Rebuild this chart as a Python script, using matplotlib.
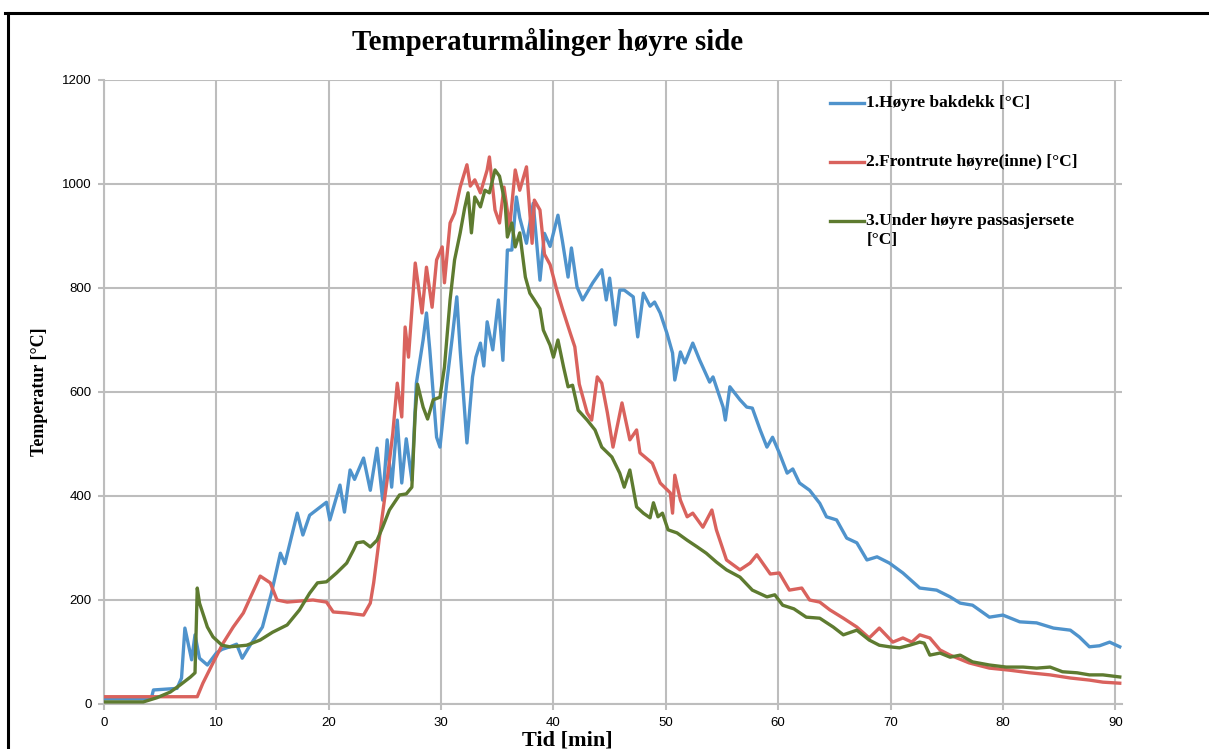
import matplotlib
matplotlib.use("Agg")
from matplotlib import pyplot as plt
from matplotlib.lines import Line2D

# (time [min], temperature [°C])
bakdekk = [(0, 10), (4.2, 10), (4.4, 27), (6.5, 30), (6.9, 50), (7.2, 146), (7.8, 85), (8.1, 133),
           (8.5, 88), (9.2, 75), (10.0, 98), (10.5, 105), (11.2, 110), (11.8, 115), (12.3, 88),
           (13.0, 113), (14.1, 148), (14.9, 213), (15.7, 290), (16.1, 270), (17.2, 367), (17.7, 325),
           (18.3, 363), (19.8, 388), (20.1, 354), (21.0, 421), (21.4, 369), (21.9, 450), (22.3, 432),
           (23.1, 473), (23.7, 411), (24.3, 492), (24.8, 392), (25.2, 508), (25.6, 417), (26.1, 546),
           (26.5, 425), (26.9, 510), (27.4, 430), (27.8, 617), (28.4, 700), (28.7, 752), (29.0, 680),
           (29.6, 513), (29.9, 494), (30.5, 617), (31.0, 706), (31.4, 783), (31.7, 680), (32.3, 502),
           (32.8, 629), (33.1, 667), (33.5, 694), (33.8, 650), (34.1, 735), (34.6, 681), (35.1, 777),
           (35.5, 661), (35.9, 873), (36.3, 873), (36.7, 975), (37.0, 935), (37.6, 886), (38.2, 963),
           (38.8, 815), (39.2, 905), (39.7, 880), (40.4, 940), (40.8, 890), (41.3, 821), (41.6, 877),
           (42.1, 802), (42.6, 777), (43.5, 810), (44.3, 835), (44.7, 777), (45.0, 819), (45.5, 729),
           (45.9, 796), (46.3, 796), (47.1, 783), (47.5, 706), (48.0, 790), (48.6, 765), (49.0, 773),
           (49.5, 752), (50.1, 713), (50.6, 675), (50.8, 623), (51.3, 677), (51.7, 656), (52.4, 694),
           (53.0, 662), (53.9, 619), (54.2, 629), (55.1, 571), (55.3, 546), (55.7, 610), (56.6, 585),
           (57.2, 571), (57.7, 569), (58.4, 527), (59.0, 494), (59.5, 513), (60.1, 483), (60.8, 444),
           (61.3, 452), (61.9, 425), (62.8, 411), (63.7, 386), (64.3, 360), (65.2, 354), (66.1, 319),
           (67.0, 310), (67.9, 277), (68.8, 283), (69.9, 271), (71.1, 252), (72.6, 223), (74.1, 219),
           (75.3, 206), (76.2, 194), (77.3, 190), (78.8, 167), (80.0, 171), (81.5, 158), (83.0, 156),
           (84.5, 146), (86.0, 142), (86.8, 129), (87.7, 110), (88.6, 112), (89.5, 119), (90.4, 110)]

frontrute = [(0, 14), (8.3, 14), (8.8, 40), (9.7, 79), (10.6, 117), (11.5, 148), (12.4, 175),
             (13.2, 213), (13.9, 246), (14.8, 233), (15.4, 200), (16.3, 196), (18.6, 200), (19.8, 196),
             (20.4, 177), (21.6, 175), (23.1, 171), (23.7, 194), (24.0, 233), (24.6, 335), (25.2, 431),
             (25.7, 520), (26.1, 617), (26.5, 552), (26.8, 725), (27.1, 667), (27.7, 848), (28.3, 752),
             (28.7, 840), (29.2, 763), (29.6, 854), (30.1, 879), (30.3, 810), (30.8, 925), (31.2, 944),
             (31.7, 994), (32.3, 1037), (32.6, 996), (33.0, 1008), (33.5, 983), (34.1, 1027),
             (34.3, 1052), (34.8, 950), (35.2, 925), (35.6, 994), (36.1, 917), (36.6, 1027),
             (37.0, 988), (37.6, 1033), (38.1, 886), (38.3, 969), (38.8, 950), (39.2, 865), (39.7, 845),
             (40.3, 796), (40.8, 760), (41.5, 713), (41.9, 687), (42.3, 615), (43.0, 560), (43.4, 546),
             (43.9, 629), (44.3, 617), (44.8, 560), (45.3, 494), (46.1, 579), (46.8, 508), (47.4, 527),
             (47.7, 483), (48.8, 463), (49.5, 425), (50.4, 406), (50.6, 367), (50.8, 440), (51.3, 392),
             (51.9, 360), (52.4, 367), (53.3, 340), (54.1, 373), (54.5, 335), (55.4, 277), (56.6, 258),
             (57.5, 271), (58.1, 287), (59.3, 250), (60.1, 252), (61.0, 219), (62.1, 223), (62.8, 200),
             (63.7, 196), (64.6, 181), (65.8, 165), (67.0, 148), (68.1, 127), (69.0, 146), (70.2, 119),
             (71.1, 127), (71.9, 119), (72.6, 133), (73.5, 127), (74.4, 104), (75.3, 94), (77.0, 79),
             (78.8, 69), (80.6, 65), (82.4, 60), (84.2, 56), (86.0, 50), (87.7, 46), (88.9, 42),
             (90.4, 40)]

passasjersete = [(0, 4), (3.5, 4), (4.7, 12), (5.9, 23), (6.8, 37), (7.7, 52), (8.1, 60), (8.3, 223),
                 (8.5, 194), (9.2, 148), (9.7, 129), (10.5, 113), (11.2, 110), (12.7, 113), (13.9, 123),
                 (15.0, 138), (16.3, 152), (17.4, 181), (18.3, 213), (19.0, 233), (19.8, 235),
                 (20.7, 252), (21.6, 271), (22.2, 296), (22.5, 310), (23.1, 312), (23.7, 302),
                 (24.3, 315), (24.8, 340), (25.4, 373), (26.3, 402), (26.9, 404), (27.4, 417),
                 (27.7, 560), (27.9, 615), (28.4, 571), (28.8, 548), (29.3, 585), (29.9, 590),
                 (30.3, 648), (30.8, 777), (31.2, 854), (31.7, 906), (32.1, 954), (32.4, 983),
                 (32.7, 906), (33.0, 975), (33.5, 956), (33.9, 988), (34.3, 983), (34.8, 1027),
                 (35.2, 1015), (35.7, 963), (35.9, 898), (36.3, 925), (36.6, 879), (37.0, 906),
                 (37.5, 821), (37.9, 790), (38.3, 777), (38.8, 760), (39.1, 719), (39.7, 690),
                 (40.0, 667), (40.4, 700), (40.9, 648), (41.3, 610), (41.7, 613), (42.2, 565),
                 (43.0, 546), (43.7, 527), (44.3, 494), (45.2, 475), (45.9, 444), (46.3, 417),
                 (46.8, 450), (47.4, 379), (48.0, 367), (48.6, 358), (48.9, 387), (49.3, 360),
                 (49.7, 367), (50.2, 335), (51.0, 329), (51.9, 315), (52.8, 302), (53.6, 290),
                 (54.5, 273), (55.4, 258), (56.6, 244), (57.7, 219), (59.0, 206), (59.7, 210),
                 (60.4, 190), (61.4, 183), (62.5, 167), (63.7, 165), (64.9, 148), (65.8, 133),
                 (67.0, 142), (68.1, 123), (69.0, 113), (69.9, 110), (70.8, 108), (71.7, 113),
                 (72.6, 119), (73.0, 117), (73.5, 94), (74.4, 98), (75.3, 90), (76.2, 94), (77.3, 81),
                 (78.8, 75), (80.3, 71), (81.8, 71), (83.0, 69), (84.2, 71), (85.3, 62), (86.6, 60),
                 (87.7, 56), (88.9, 56), (90.4, 52)]

labels = ["1.Høyre bakdekk [°C]", "2.Frontrute høyre(inne) [°C]", "3.Under høyre passasjersete\n[°C]"]
colors = ["#4f93cc", "#d9625d", "#5e7b30"]
x_ticks = [0, 10, 20, 30, 40, 50, 60, 70, 80, 90]
y_ticks = [0, 200, 400, 600, 800, 1000, 1200]

serif = "Liberation Serif"
grid_col = "#bdbdbd"

fig = plt.figure(figsize=(12.09, 7.49), dpi=100)
ax = fig.add_axes([104 / 1209, 1 - 704 / 749, 1018 / 1209, 624 / 749])

for series, col in zip([bakdekk, frontrute, passasjersete], colors):
    t = [p[0] for p in series]
    temp = [p[1] for p in series]
    ax.plot(t, temp, color=col, lw=2.4, solid_joinstyle="round", zorder=3)

ax.set_xlim(0, 90.6)
ax.set_ylim(0, 1200)
ax.set_xticks(x_ticks)
ax.set_yticks(y_ticks)
ax.grid(True, color=grid_col, lw=1.5)
ax.set_axisbelow(True)
for s in ["top", "right"]:
    ax.spines[s].set_visible(False)
for s in ["left", "bottom"]:
    ax.spines[s].set_color(grid_col)
    ax.spines[s].set_linewidth(1.5)
ax.tick_params(length=4, width=1.5, color=grid_col, labelsize=9.5, pad=5)
for lab in ax.get_xticklabels() + ax.get_yticklabels():
    lab.set_fontfamily("Liberation Sans")

ax.set_xlabel("Tid [min]", fontfamily=serif, fontweight="bold", fontsize=16)
ax.xaxis.set_label_coords((567 - 104) / 1018, (704 - 741) / 624)
ax.xaxis.label.set_va("center")
ax.set_ylabel("Temperatur [°C]", fontfamily=serif, fontweight="bold", fontsize=13, labelpad=10)
fig.text(548 / 1209, 1 - 42 / 749, "Temperaturmålinger høyre side", ha="center", va="center",
         fontfamily=serif, fontweight="bold", fontsize=20.8)

# legend drawn by hand so the wrapped label keeps its handle on the first line
rows = [0.963, 0.869, 0.774]
for lab, col, yy in zip(labels, colors, rows):
    ax.add_line(Line2D([0.713, 0.747], [yy, yy], transform=ax.transAxes, color=col, lw=2.4,
                       clip_on=False, zorder=4))
    ax.text(0.749, yy + 0.013, lab, transform=ax.transAxes, va="top", ha="left",
            fontfamily=serif, fontweight="bold", fontsize=12.5, linespacing=1.25)

# screenshot frame
fig.add_artist(Line2D([5 / 1209, 1], [1 - 13 / 749] * 2, color="black", lw=2.2))
fig.add_artist(Line2D([8 / 1209] * 2, [0, 1 - 13 / 749], color="black", lw=2.2))

fig.savefig("out.png", dpi=100)
